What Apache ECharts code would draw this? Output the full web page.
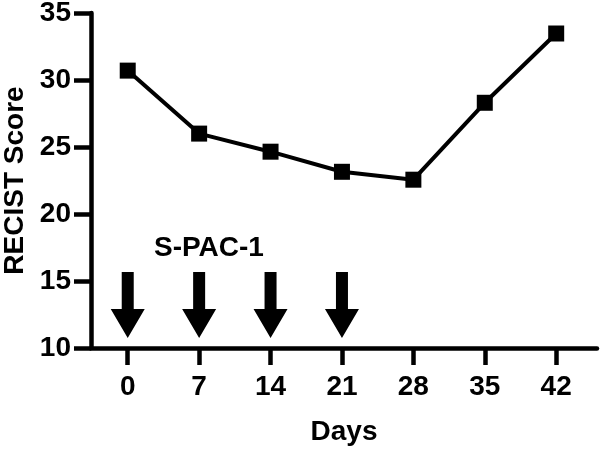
<!DOCTYPE html>
<html>
<head>
<meta charset="utf-8">
<script src="https://cdn.jsdelivr.net/npm/echarts@6/dist/echarts.min.js"></script>
<style>html,body{margin:0;padding:0;background:#fff}#c{width:602px;height:453px}</style>
</head>
<body>
<div id="c"></div>
<script>
const days = [0, 7, 14, 21, 28, 35, 42];
const recist = [30.7, 26.0, 24.65, 23.15, 22.56, 28.3, 33.47];
const doseDays = [0, 7, 14, 21];
const xTicks = [0, 7, 14, 21, 28, 35, 42];
const yTicks = [10, 15, 20, 25, 30, 35];
const doseLabel = 'S-PAC-1';

const FONT = '"Liberation Sans", Arial, sans-serif';
const chart = echarts.init(document.getElementById('c'));
const arrowPath = 'path://M11 0 L23 0 L23 37 L34 37 L17 66 L0 37 L11 37 Z';

chart.setOption({
  backgroundColor: '#fff',
  animation: false,
  grid: { left: 91, right: 5, top: 13, bottom: 105, containLabel: false, outerBoundsMode: 'none' },
  xAxis: {
    type: 'value', min: -3.6, max: 46,
    name: 'Days', nameLocation: 'middle', nameGap: 70,
    nameTextStyle: { fontFamily: FONT, fontWeight: 'bold', fontSize: 28, color: '#000' },
    axisLine: { show: true, onZero: false, lineStyle: { color: '#000', width: 4.5 } },
    axisTick: { show: true, length: 17, lineStyle: { color: '#000', width: 4.5 }, customValues: xTicks },
    axisLabel: { fontFamily: FONT, fontWeight: 'bold', fontSize: 28, color: '#000', margin: 25, customValues: xTicks },
    splitLine: { show: false }
  },
  yAxis: {
    type: 'value', min: 10, max: 35, interval: 5,
    name: 'RECIST Score', nameLocation: 'middle', nameGap: 60, nameRotate: 90,
    nameTextStyle: { fontFamily: FONT, fontWeight: 'bold', fontSize: 28, color: '#000' },
    axisLine: { show: true, onZero: false, lineStyle: { color: '#000', width: 4.5 } },
    axisTick: { show: true, length: 17, lineStyle: { color: '#000', width: 4.5 } },
    axisLabel: { fontFamily: FONT, fontWeight: 'bold', fontSize: 28, color: '#000', margin: 20, customValues: yTicks },
    splitLine: { show: false }
  },
  series: [
    {
      type: 'line',
      data: days.map((d, i) => [d, recist[i]]),
      symbol: 'rect', symbolSize: 16,
      lineStyle: { color: '#000', width: 4 },
      itemStyle: { color: '#000', opacity: 1 },
      z: 3
    },
    {
      type: 'scatter',
      data: doseDays.map(d => [d, 13.2]),
      symbol: arrowPath, symbolSize: [34, 66],
      itemStyle: { color: '#000', opacity: 1 },
      z: 2
    }
  ],
  graphic: [
    { type: 'text', left: 154, top: 234,
      style: { text: doseLabel, fontFamily: FONT, fontWeight: 'bold', fontSize: 28, fill: '#000' } }
  ]
});
</script>
</body>
</html>
